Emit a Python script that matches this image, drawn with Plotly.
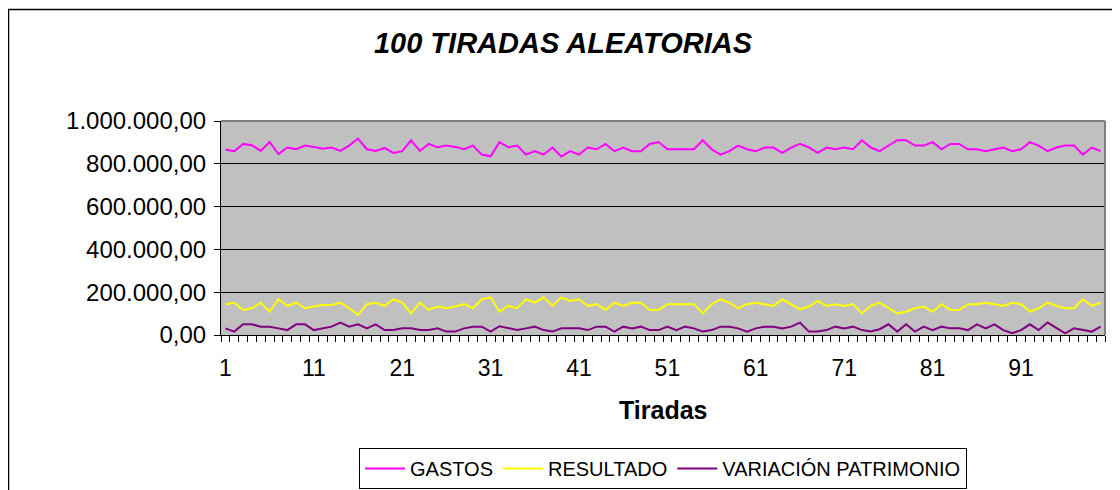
import plotly.graph_objects as go

tiradas = list(range(1, 101))

gastos = [867000, 859000, 893000, 887000, 860000, 902000, 845000, 876000, 868000, 885000,
          879000, 870000, 876000, 860000, 885000, 918000, 868000, 860000, 874000, 851000,
          859000, 910000, 860000, 893000, 877000, 885000, 879000, 868000, 885000, 843000,
          835000, 901000, 877000, 885000, 843000, 859000, 843000, 876000, 834000, 859000,
          843000, 876000, 868000, 893000, 859000, 876000, 859000, 859000, 893000, 902000,
          868000, 868000, 868000, 868000, 910000, 868000, 843000, 859000, 885000, 868000,
          859000, 876000, 876000, 851000, 876000, 893000, 877000, 851000, 876000, 868000,
          876000, 868000, 910000, 876000, 859000, 885000, 910000, 910000, 885000, 885000,
          901000, 868000, 893000, 893000, 868000, 868000, 859000, 868000, 876000, 859000,
          868000, 901000, 885000, 859000, 876000, 885000, 885000, 843000, 876000, 859000]

resultado = [144000, 151000, 117000, 125000, 151000, 109000, 167000, 136000, 151000, 125000,
             133000, 140000, 140000, 151000, 125000, 94000, 144000, 151000, 136000, 167000,
             151000, 101000, 151000, 117000, 133000, 125000, 133000, 144000, 125000, 167000,
             176000, 109000, 136000, 125000, 167000, 151000, 176000, 136000, 176000, 159000,
             167000, 136000, 144000, 117000, 151000, 136000, 151000, 151000, 117000, 117000,
             144000, 144000, 144000, 144000, 101000, 144000, 167000, 151000, 125000, 144000,
             151000, 144000, 136000, 167000, 144000, 120000, 133000, 159000, 136000, 144000,
             136000, 144000, 101000, 136000, 151000, 125000, 101000, 109000, 125000, 133000,
             109000, 144000, 117000, 117000, 144000, 144000, 151000, 144000, 136000, 151000,
             144000, 109000, 125000, 151000, 136000, 125000, 125000, 167000, 136000, 151000]

variacion = [31000, 16000, 50000, 50000, 39000, 39000, 31000, 23000, 50000, 50000,
             23000, 31000, 39000, 58000, 39000, 50000, 31000, 50000, 23000, 23000,
             31000, 31000, 23000, 23000, 31000, 16000, 16000, 31000, 39000, 39000,
             16000, 41000, 31000, 23000, 31000, 39000, 23000, 16000, 31000, 31000,
             31000, 23000, 39000, 39000, 16000, 39000, 31000, 39000, 23000, 23000,
             39000, 23000, 39000, 31000, 16000, 23000, 39000, 39000, 31000, 16000,
             31000, 39000, 39000, 31000, 39000, 58000, 16000, 16000, 23000, 39000,
             31000, 39000, 23000, 16000, 27000, 50000, 16000, 50000, 16000, 39000,
             23000, 39000, 31000, 31000, 23000, 50000, 31000, 50000, 23000, 8000,
             23000, 50000, 23000, 58000, 31000, 8000, 31000, 23000, 16000, 39000]

x_tick_vals = [1, 11, 21, 31, 41, 51, 61, 71, 81, 91]
x_tick_text = ["1", "11", "21", "31", "41", "51", "61", "71", "81", "91"]
y_tick_vals = [0, 200000, 400000, 600000, 800000, 1000000]

series = [("GASTOS", gastos, "#FF00FF"),
          ("RESULTADO", resultado, "#FFFF00"),
          ("VARIACIÓN PATRIMONIO", variacion, "#800080")]

FONT = "Liberation Sans, Arial, sans-serif"

fig = go.Figure()
for name, vals, col in series:
    fig.add_trace(go.Scatter(x=tiradas, y=vals, mode="lines", name=name,
                             line=dict(color=col, width=2)))

# page has an 8px body margin; the figure fills the rest of the window
OFF = 8
W, H = 1120 - OFF, 490 - OFF
# plot-area edges in window pixels
PX0, PX1, PY0, PY1 = 221, 1105, 121, 335
L, R, T, B = PX0 - OFF, W - (PX1 - OFF), PY0 - OFF, H - (PY1 - OFF)
pw, ph = W - L - R, H - T - B

def px_x(x):
    return (x - OFF - L) / pw

def px_y(y):
    return (H - B - (y - OFF)) / ph

fig.update_layout(
    width=W, height=H,
    margin=dict(l=L, r=R, t=T, b=B, autoexpand=False),
    paper_bgcolor="white",
    plot_bgcolor="#C0C0C0",
    separators=",.",
    font=dict(family=FONT, color="black"),
    title=dict(text="<b><i>100 TIRADAS ALEATORIAS</i></b>", x=(563 - OFF) / W, xanchor="center",
               y=1 - (43 - OFF) / H, yanchor="middle", yref="container",
               font=dict(size=29, family=FONT, color="black")),
    showlegend=True,
    legend=dict(orientation="h", x=(663 - OFF) / W, xanchor="center", xref="container",
                y=1 - (448 - OFF) / H, yanchor="top", yref="container",
                bordercolor="black", borderwidth=1, bgcolor="white",
                font=dict(size=20, family=FONT, color="black"),
                itemwidth=40, tracegroupgap=0),
    xaxis=dict(range=[0.5, 100.5], tickmode="array", tickvals=x_tick_vals, ticktext=x_tick_text,
               ticks="outside", ticklen=12, tickcolor="rgba(0,0,0,0)",
               showgrid=False, zeroline=False, automargin=False,
               showline=True, linecolor="black", linewidth=1,
               tickfont=dict(size=23, family=FONT, color="black"),
               minor=dict(ticks="outside", tick0=0.5, dtick=1, ticklen=6,
                          tickcolor="black", tickwidth=1, showgrid=False)),
    yaxis=dict(range=[0, 1000000], tickmode="array", tickvals=y_tick_vals,
               tickformat=",.2f", ticks="outside", ticklen=6, tickcolor="black",
               showgrid=True, gridcolor="black", gridwidth=1, zeroline=False,
               showline=True, linecolor="black", linewidth=1, automargin=False,
               ticklabelstandoff=3,
               tickfont=dict(size=24, family=FONT, color="black")),
    annotations=[dict(text="<b>Tiradas</b>", xref="paper", yref="paper",
                      x=px_x(663), y=px_y(410), xanchor="center", yanchor="middle",
                      showarrow=False, font=dict(size=25, family=FONT, color="black"))],
    shapes=[
        # gray top/right plot border
        dict(type="line", xref="paper", yref="paper", x0=0, x1=1, y0=1, y1=1,
             line=dict(color="#808080", width=2)),
        dict(type="line", xref="paper", yref="paper", x0=1, x1=1, y0=0, y1=1,
             line=dict(color="#808080", width=2)),
        # outer chart border
        dict(type="rect", xref="paper", yref="paper", x0=px_x(8.5), x1=px_x(1140),
             y0=px_y(520), y1=px_y(9.5), line=dict(color="black", width=1.5),
             fillcolor="rgba(0,0,0,0)", layer="below"),
    ],
)

fig.write_html("out.html")
